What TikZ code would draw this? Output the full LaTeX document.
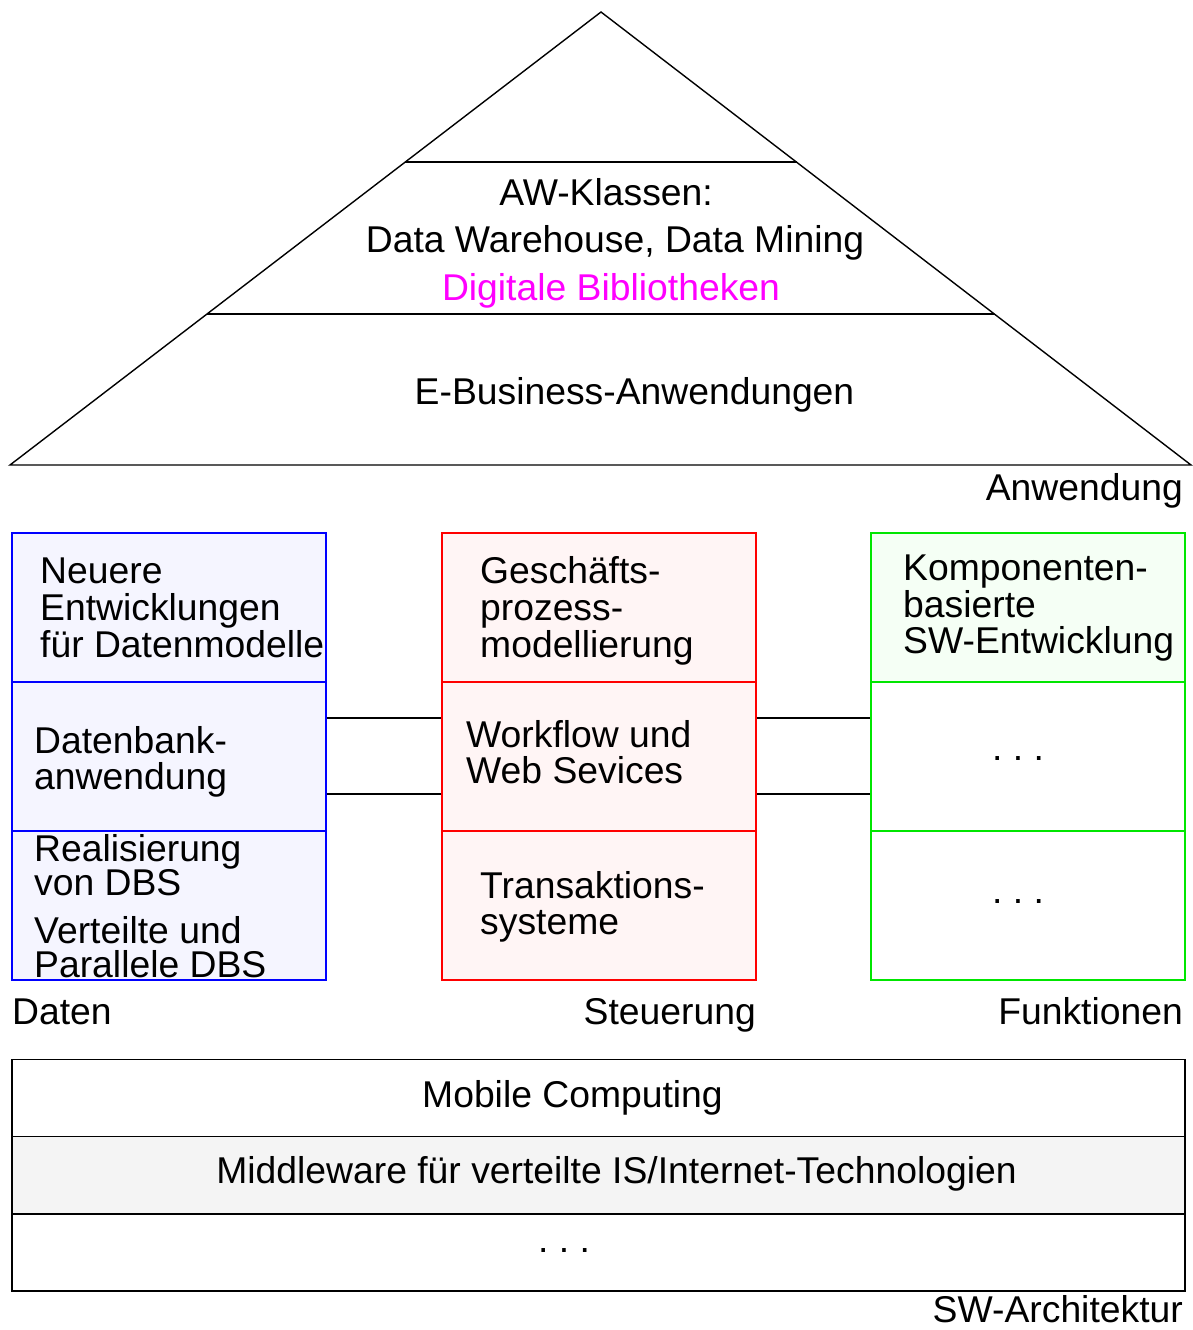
\documentclass[tikz,border=0pt]{standalone}
\usepackage{fontspec}
\setmainfont{Liberation Sans}
\definecolor{bluefill}{RGB}{245,245,255}
\definecolor{redfill}{RGB}{255,245,245}
\definecolor{greenfill}{RGB}{245,255,245}
\definecolor{grayfill}{RGB}{244,244,244}
\definecolor{mag}{RGB}{255,0,255}
\definecolor{grn}{RGB}{0,230,0}
\tikzset{
  lbl/.style={inner sep=0pt, font=\fontsize{37.3}{37}\selectfont},
  cell/.style={draw, line width=1.6pt, minimum width=314pt, minimum height=149pt, anchor=north west, inner sep=0pt},
  brow/.style={draw, line width=1.5pt, minimum width=1173pt, minimum height=77.3pt, anchor=north west, inner sep=0pt},
  conn/.style={line width=1.4pt},
}
\begin{document}
\begin{tikzpicture}[x=1pt,y=-1pt]
\useasboundingbox (0,0) rectangle (1192,1330);
% pyramid
\coordinate (apex) at (601,12);
\coordinate (bl) at (10,465);
\coordinate (br) at (1191,465);
\coordinate (l1a) at (405,162);
\coordinate (l1b) at (797,162);
\coordinate (l2a) at (207,314);
\coordinate (l2b) at (994,314);
\draw[conn] (apex) -- (bl) -- (br) -- cycle;
\draw[conn] (l1a) -- (l1b);
\draw[conn] (l2a) -- (l2b);
\node[lbl, anchor=base] (aw) at (606,205) {AW-Klassen:};
\node[lbl, anchor=base] (dw) at (615,252) {Data Warehouse, Data Mining};
\node[lbl, anchor=base, text=mag] (db) at (611,300) {Digitale Bibliotheken};
\node[lbl, anchor=base] (eb) at (634.5,404) {E-Business-Anwendungen};
\node[lbl, anchor=base east] (anw) at (1183,500) {Anwendung};
% Daten column
\node[cell, draw=blue, fill=bluefill] (d1) at (11,532) {};
\node[cell, draw=blue, fill=bluefill] (d2) at (11,681) {};
\node[cell, draw=blue, fill=bluefill] (d3) at (11,830) {};
\node[lbl, anchor=base west] (d1a) at (40,583) {Neuere};
\node[lbl, anchor=base west] (d1b) at (40,620) {Entwicklungen};
\node[lbl, anchor=base west] (d1c) at (40,657) {für Datenmodelle};
\node[lbl, anchor=base west] (d2a) at (34,753) {Datenbank-};
\node[lbl, anchor=base west] (d2b) at (34,789) {anwendung};
\node[lbl, anchor=base west] (d3a) at (34,861) {Realisierung};
\node[lbl, anchor=base west] (d3b) at (34,895) {von DBS};
\node[lbl, anchor=base west] (d3c) at (34,943) {Verteilte und};
\node[lbl, anchor=base west] (d3d) at (34,977) {Parallele DBS};
% Steuerung column
\node[cell, draw=red, fill=redfill] (s1) at (441,532) {};
\node[cell, draw=red, fill=redfill] (s2) at (441,681) {};
\node[cell, draw=red, fill=redfill] (s3) at (441,830) {};
\node[lbl, anchor=base west] (s1a) at (480,583) {Geschäfts-};
\node[lbl, anchor=base west] (s1b) at (480,620) {prozess-};
\node[lbl, anchor=base west] (s1c) at (480,657) {modellierung};
\node[lbl, anchor=base west] (s2a) at (466,747) {Workflow und};
\node[lbl, anchor=base west] (s2b) at (466,783) {Web Sevices};
\node[lbl, anchor=base west] (s3a) at (480,898) {Transaktions-};
\node[lbl, anchor=base west] (s3b) at (480,934) {systeme};
% Funktionen column
\node[cell, draw=grn, fill=greenfill] (f1) at (870,532) {};
\node[cell, draw=grn, fill=white] (f2) at (870,681) {};
\node[cell, draw=grn, fill=white] (f3) at (870,830) {};
\node[lbl, anchor=base west] (f1a) at (903,580) {Komponenten-};
\node[lbl, anchor=base west] (f1b) at (903,617) {basierte};
\node[lbl, anchor=base west] (f1c) at (903,653) {SW-Entwicklung};
\node[lbl, anchor=base] (f2a) at (1018,760) {.~.~.};
\node[lbl, anchor=base] (f3a) at (1018,903) {.~.~.};
% connectors
\draw[conn] ([yshift=38.5pt]d2.east) -- ([yshift=38.5pt]s2.west);
\draw[conn] ([yshift=-37.5pt]d2.east) -- ([yshift=-37.5pt]s2.west);
\draw[conn] ([yshift=38.5pt]s2.east) -- ([yshift=38.5pt]f2.west);
\draw[conn] ([yshift=-37.5pt]s2.east) -- ([yshift=-37.5pt]f2.west);
% column labels
\node[lbl, anchor=base west] (dat) at (12,1024) {Daten};
\node[lbl, anchor=base east] (ste) at (756,1024) {Steuerung};
\node[lbl, anchor=base east] (fun) at (1183,1024) {Funktionen};
% bottom
\node[brow, fill=white] (r1) at (11,1058.5) {};
\node[brow, fill=grayfill] (r2) at (11,1135.8) {};
\node[brow, fill=white] (r3) at (11,1213.1) {};
\node[lbl, anchor=base] (r1t) at (572.5,1107) {Mobile Computing};
\node[lbl, anchor=base] (r2t) at (616.5,1183) {Middleware für verteilte IS/Internet-Technologien};
\node[lbl, anchor=base] (r3t) at (564,1252) {.~.~.};
\node[lbl, anchor=base east] (swa) at (1183,1322) {SW-Architektur};
\end{tikzpicture}
\end{document}
